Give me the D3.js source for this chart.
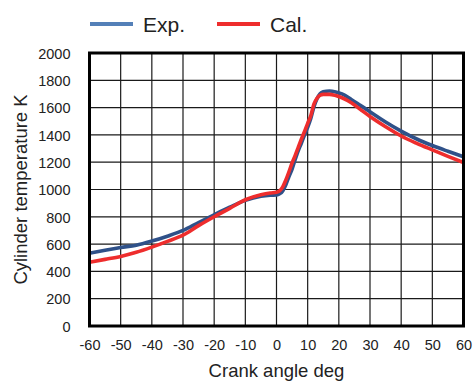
<!DOCTYPE html>
<html>
<head>
<meta charset="utf-8">
<script src="https://cdn.jsdelivr.net/npm/d3@7"></script>
<style>
  html, body { margin: 0; padding: 0; background: #fff; }
  svg { display: block; font-family: "Liberation Sans", Arial, sans-serif; }
</style>
</head>
<body>
<svg id="chart" width="473" height="382"></svg>
<script>
// Crank angle (deg) and cylinder temperature (K)
const expAngle = [-60, -55, -50, -45, -40, -35, -30, -25, -20, -15, -10, -5, -2, 0, 1, 2, 3, 4, 5, 6, 7, 8, 9, 10, 11, 12, 13, 14, 15, 17, 19, 21, 24, 27, 30, 35, 40, 45, 50, 55, 60];
const expTemp  = [533, 555, 575, 592, 622, 658, 700, 758, 815, 870, 920, 950, 958, 960, 968, 990, 1035, 1095, 1150, 1220, 1285, 1340, 1400, 1455, 1520, 1605, 1665, 1702, 1716, 1722, 1715, 1700, 1660, 1615, 1570, 1495, 1428, 1370, 1322, 1280, 1240];

const calAngle = [-60, -55, -50, -45, -40, -35, -30, -25, -20, -15, -10, -5, -2, 0, 1, 2, 3, 4, 5, 6, 7, 8, 9, 10, 11, 12, 13, 14, 15, 17, 19, 21, 24, 27, 30, 35, 40, 45, 50, 55, 60];
const calTemp  = [467, 488, 510, 540, 578, 620, 665, 735, 800, 862, 925, 962, 975, 980, 990, 1020, 1070, 1130, 1195, 1250, 1310, 1370, 1425, 1485, 1540, 1625, 1668, 1690, 1697, 1697, 1688, 1672, 1636, 1585, 1535, 1460, 1392, 1338, 1290, 1243, 1198];

const xTicks = [-60, -50, -40, -30, -20, -10, 0, 10, 20, 30, 40, 50, 60];
const yTicks = [0, 200, 400, 600, 800, 1000, 1200, 1400, 1600, 1800, 2000];

const seriesNames = ["Exp.", "Cal."];
const seriesColors = ["#2f5189", "#ee2d2d"];
const legendColors = ["#5480b8", "#ee2d2d"];

const svg = d3.select("#chart");
const plot = { left: 89.5, right: 463.5, top: 53, bottom: 326 };

const x = d3.scaleLinear().domain([-60, 60]).range([plot.left, plot.right]);
const y = d3.scaleLinear().domain([0, 2000]).range([plot.bottom, plot.top]);

// plain integer labels with an ASCII hyphen for negatives
const plain = d => String(d);

// grid
const grid = svg.append("g");
grid.selectAll("line.v").data(xTicks.slice(1, -1)).join("line")
  .attr("x1", d => x(d)).attr("x2", d => x(d))
  .attr("y1", plot.top).attr("y2", plot.bottom)
  .attr("stroke", "#1a1a1a").attr("stroke-width", 1.2);
grid.selectAll("line.h").data(yTicks.slice(1, -1)).join("line")
  .attr("x1", plot.left).attr("x2", plot.right)
  .attr("y1", d => y(d)).attr("y2", d => y(d))
  .attr("stroke", "#1a1a1a").attr("stroke-width", 1.2);

// axes (labels only; the frame is drawn separately)
const xAxis = d3.axisBottom(x).tickValues(xTicks).tickFormat(plain).tickSize(0).tickPadding(0);
const gx = svg.append("g").attr("transform", `translate(0,${plot.bottom})`).call(xAxis);
gx.select(".domain").remove();
gx.selectAll("text").attr("y", 24).attr("dy", 0)
  .attr("font-size", 14.5).attr("fill", "#222")
  .attr("font-family", "Liberation Sans, Arial, sans-serif");

const yAxis = d3.axisLeft(y).tickValues(yTicks).tickFormat(plain).tickSize(0).tickPadding(0);
const gy = svg.append("g").attr("transform", `translate(${plot.left},0)`).call(yAxis);
gy.select(".domain").remove();
gy.selectAll("text").attr("x", -19).attr("dy", "0.36em")
  .attr("font-size", 14.5).attr("fill", "#222")
  .attr("font-family", "Liberation Sans, Arial, sans-serif");

// series lines
const line = d3.line().x(d => x(d[0])).y(d => y(d[1])).curve(d3.curveMonotoneX);
const series = [
  d3.zip(expAngle, expTemp),
  d3.zip(calAngle, calTemp)
];
svg.append("g").selectAll("path").data(series).join("path")
  .attr("d", line)
  .attr("fill", "none")
  .attr("stroke", (d, i) => seriesColors[i])
  .attr("stroke-width", 3.6)
  .attr("stroke-linejoin", "round")
  .attr("stroke-linecap", "butt");

// frame
svg.append("rect")
  .attr("x", plot.left).attr("y", plot.top)
  .attr("width", plot.right - plot.left).attr("height", plot.bottom - plot.top)
  .attr("fill", "none").attr("stroke", "#000").attr("stroke-width", 3);

// axis titles
svg.append("text")
  .attr("x", (plot.left + plot.right) / 2).attr("y", 377)
  .attr("text-anchor", "middle").attr("font-size", 18.5).attr("fill", "#222")
  .text("Crank angle deg");
svg.append("text")
  .attr("transform", `translate(27,${(plot.top + plot.bottom) / 2}) rotate(-90)`)
  .attr("text-anchor", "middle").attr("font-size", 18.5).attr("fill", "#222")
  .text("Cylinder temperature K");

// legend
const legendX = [90, 217];
const legend = svg.append("g").selectAll("g").data(seriesNames).join("g")
  .attr("transform", (d, i) => `translate(${legendX[i]},24)`);
legend.append("line")
  .attr("x1", 0).attr("x2", 43).attr("y1", 0).attr("y2", 0)
  .attr("stroke", (d, i) => legendColors[i]).attr("stroke-width", 4);
legend.append("text")
  .attr("x", 53).attr("y", 8)
  .attr("font-size", 21).attr("fill", "#222")
  .text(d => d);
</script>
</body>
</html>
